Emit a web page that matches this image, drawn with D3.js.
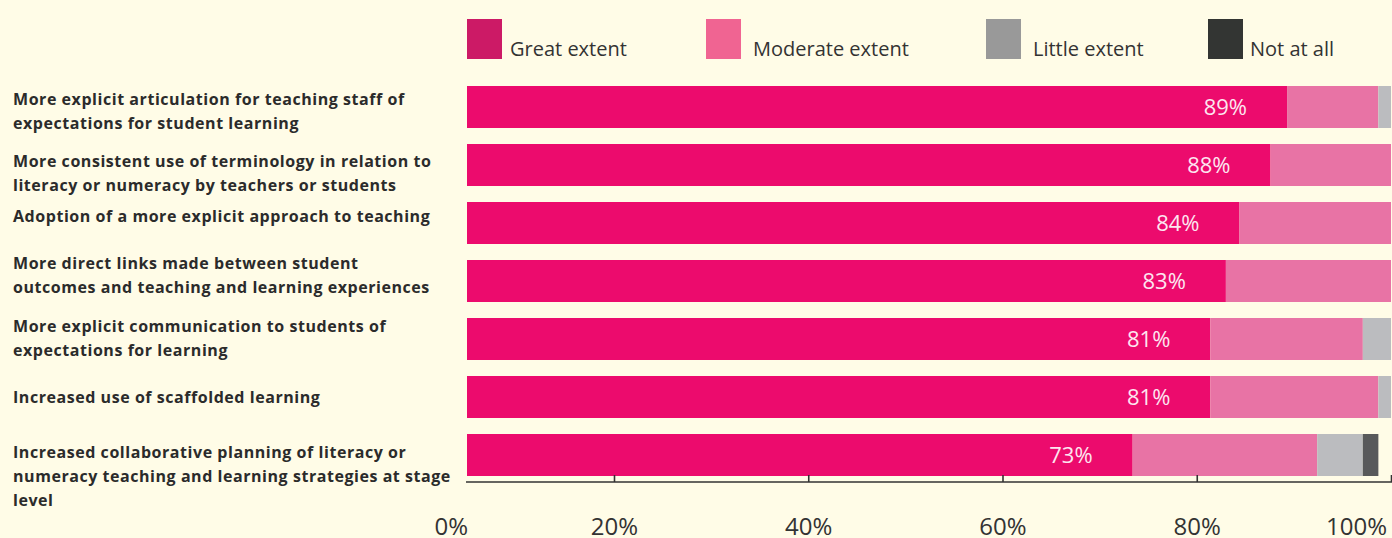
<!DOCTYPE html>
<html>
<head>
<meta charset="utf-8">
<script src="https://cdn.jsdelivr.net/npm/d3@7"></script>
<style>
  html, body { margin: 0; padding: 0; background: #fffce7; }
  svg { display: block; }
</style>
</head>
<body>
<svg id="chart" width="1392" height="538"></svg>
<script>
// ---------- data ----------
const categories = [
  ["More explicit articulation for teaching staff of", "expectations for student learning"],
  ["More consistent use of terminology in relation to", "literacy or numeracy by teachers or students"],
  ["Adoption of a more explicit approach to teaching"],
  ["More direct links made between student", "outcomes and teaching and learning experiences"],
  ["More explicit communication to students of", "expectations for learning"],
  ["Increased use of scaffolded learning"],
  ["Increased collaborative planning of literacy or", "numeracy teaching and learning strategies at stage", "level"]
];
const seriesNames = ["Great extent", "Moderate extent", "Little extent", "Not at all"];
const greatExtent    = [89.3, 87.6, 84.4, 83.0, 81.4, 81.4, 73.4];
const moderateExtent = [9.4, 12.4, 15.6, 17.0, 15.7, 17.3, 19.0];
const littleExtent   = [1.3, 0, 0, 0, 2.9, 1.3, 4.7];
const notAtAll       = [0, 0, 0, 0, 0, 0, 1.6];
const valueLabels    = ["89%", "88%", "84%", "83%", "81%", "81%", "73%"];
const tickValues     = [0, 20, 40, 60, 80, 100];

// ---------- style / layout ----------
const barColors    = ["#ec0b6d", "#e873a5", "#bbbcbf", "#58595b"];
const legendColors = ["#cc1a66", "#f06492", "#999999", "#333533"];
const legendX      = [467, 706, 986, 1208];
const legendTextDx = [43, 47, 47, 42];
const labelNudge   = [4, 8, -7, -6, -1, 0, 21];

const svg = d3.select("#chart");
const W = 1392, H = 538;
svg.append("rect").attr("width", W).attr("height", H).attr("fill", "#fffce7");

const x = d3.scaleLinear().domain([0, 100]).range([419.75, 1391]);
const y = d3.scaleBand().domain(d3.range(categories.length))
  .range([86, 476]).paddingInner(16 / 58).paddingOuter(0);

const barLeft = 467;
svg.append("clipPath").attr("id", "plotClip")
  .append("rect").attr("x", barLeft).attr("y", 0).attr("width", W - barLeft).attr("height", H);

const seriesArrays = [greatExtent, moderateExtent, littleExtent, notAtAll];
const rows = categories.map((c, i) => {
  const r = { i };
  seriesNames.forEach((s, k) => r[s] = seriesArrays[k][i]);
  return r;
});
const stacked = d3.stack().keys(seriesNames)(rows);

const plot = svg.append("g").attr("clip-path", "url(#plotClip)");
stacked.forEach((layer, k) => {
  plot.append("g").attr("fill", barColors[k])
    .selectAll("rect").data(layer.filter(d => d[1] - d[0] > 0)).join("rect")
    .attr("x", d => x(d[0]))
    .attr("y", d => y(d.data.i))
    .attr("width", d => x(d[1]) - x(d[0]))
    .attr("height", y.bandwidth());
});

// value labels
svg.append("g").selectAll("text").data(greatExtent).join("text")
  .attr("x", d => x(d) - 40)
  .attr("y", (d, i) => y(i) + y.bandwidth() / 2 + 8)
  .attr("text-anchor", "end")
  .attr("font-family", "'Open Sans', sans-serif")
  .attr("font-weight", 400)
  .attr("font-size", 22)
  .attr("fill", "#fde6f0")
  .text((d, i) => valueLabels[i]);

// category labels
const lineH = 24;
const lab = svg.append("g")
  .attr("font-family", "'Open Sans', sans-serif")
  .attr("font-weight", 700)
  .attr("font-size", 16)
  .attr("letter-spacing", 0.55)
  .attr("fill", "#2b2b2b");
categories.forEach((lines, i) => {
  const cy = y(i) + y.bandwidth() / 2 + labelNudge[i];
  const first = cy - (lines.length - 1) * lineH / 2 + 6;
  const t = lab.append("text").attr("x", 13).attr("y", first);
  lines.forEach((ln, j) => {
    t.append("tspan").attr("x", 13).attr("y", first + j * lineH).text(ln);
  });
});

// axis
const axisY = 482;
const axis = d3.axisBottom(x).tickValues(tickValues)
  .tickFormat(d => d + "%").tickSizeInner(-7).tickSizeOuter(0).tickPadding(36);
const gAxis = svg.append("g").attr("transform", `translate(0,${axisY})`).call(axis);
gAxis.select(".domain").remove();
gAxis.selectAll(".tick line").attr("stroke", "#333").attr("stroke-width", 1.6)
  .filter(d => d === 0).remove();
gAxis.selectAll(".tick text")
  .attr("font-family", "'Open Sans', sans-serif")
  .attr("font-size", 24)
  .attr("fill", "#333");
gAxis.selectAll(".tick").filter(d => d === 0).select("text").attr("dx", 31);
gAxis.selectAll(".tick").filter(d => d === 100).select("text").attr("dx", -35);
svg.append("line")
  .attr("x1", barLeft - 1).attr("x2", W)
  .attr("y1", axisY).attr("y2", axisY)
  .attr("stroke", "#333").attr("stroke-width", 1.6);

// legend
const leg = svg.append("g");
seriesNames.forEach((s, k) => {
  leg.append("rect").attr("x", legendX[k]).attr("y", 19)
    .attr("width", 35).attr("height", 40).attr("fill", legendColors[k]);
  leg.append("text").attr("x", legendX[k] + legendTextDx[k]).attr("y", 56)
    .attr("font-family", "'Open Sans', sans-serif")
    .attr("font-size", 20)
    .attr("fill", "#333")
    .text(s);
});
</script>
</body>
</html>
